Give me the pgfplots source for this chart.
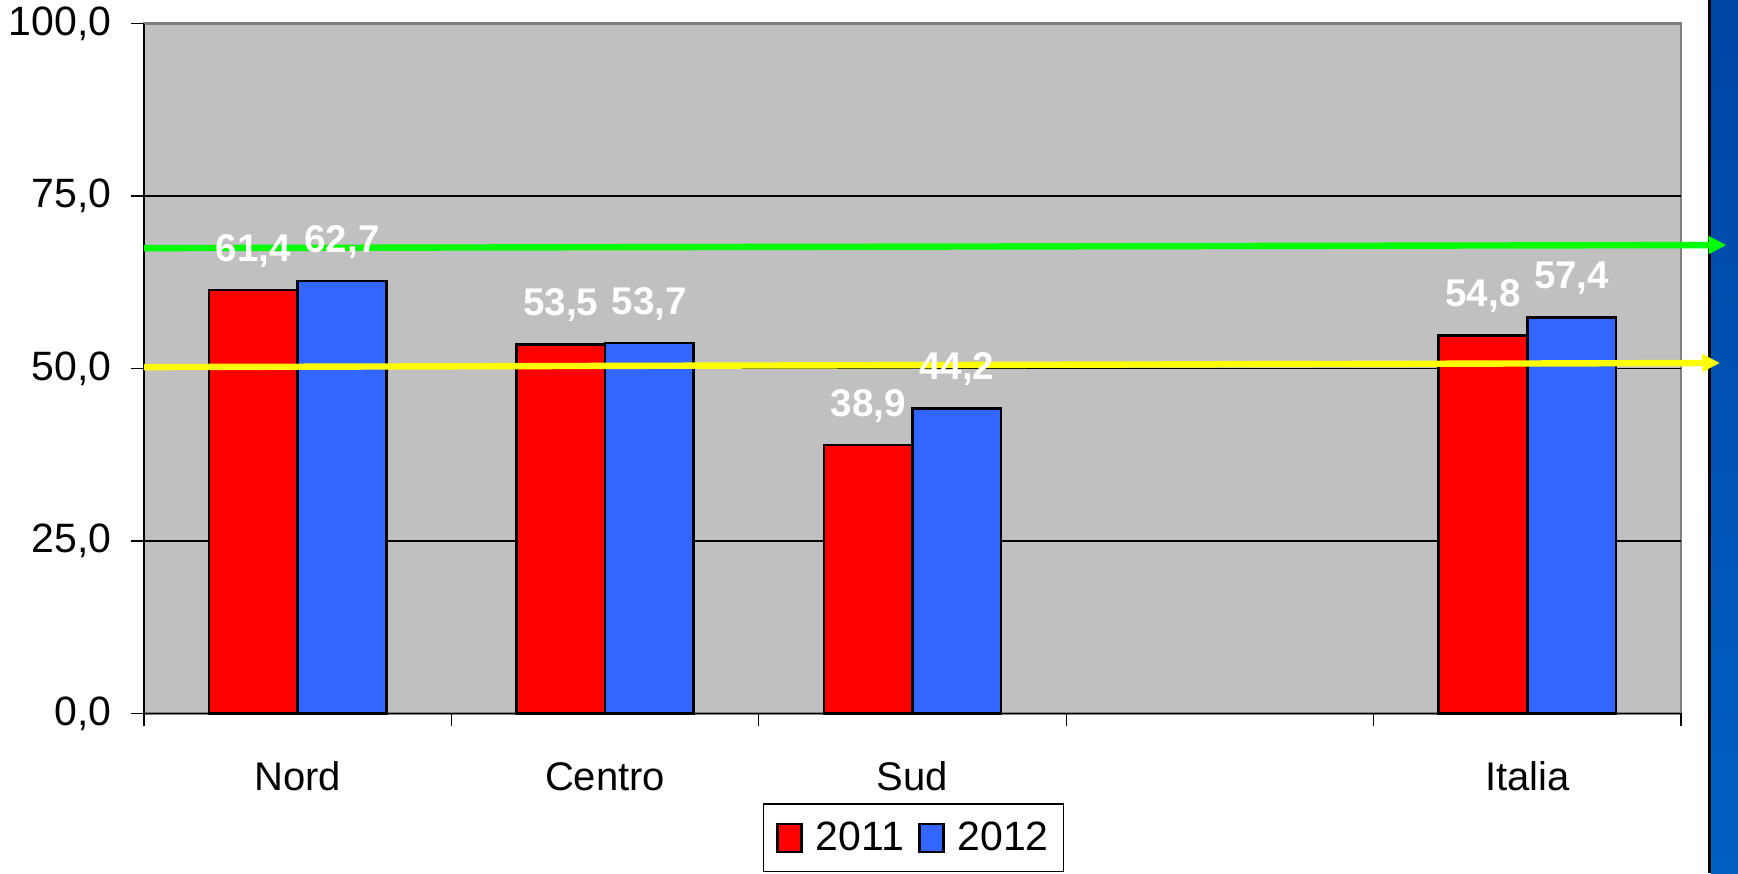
\documentclass[border=0pt]{standalone}
\usepackage{fontspec}
\setmainfont{Liberation Sans}
\usepackage{pgfplots}
\pgfplotsset{compat=1.18}
\usetikzlibrary{arrows.meta}
\definecolor{plotbg}{RGB}{192,192,192}
\definecolor{bordergray}{RGB}{128,128,128}
\definecolor{bred}{RGB}{255,0,0}
\definecolor{bblue}{RGB}{51,102,255}
\definecolor{stripetop}{RGB}{0,70,165}
\definecolor{stripebot}{RGB}{0,95,195}
\begin{document}
\begin{tikzpicture}[font=\fontsize{19}{23}\selectfont]
\path[use as bounding box] (0,0) rectangle (869pt,436.5pt);
\shade[top color=stripetop, bottom color=stripebot] (855.5pt,0) rectangle (869pt,436.5pt);
\fill[black] (854pt,0) rectangle (855.5pt,436.5pt);
\begin{axis}[
  at={(72pt,79.8pt)}, anchor=south west,
  scale only axis, width=768.5pt, height=344.9pt,
  xmin=-0.5, xmax=4.5, ymin=0, ymax=100,
  clip=false,
  axis x line*=bottom, axis y line*=left,
  axis line style={black, line width=0.6pt},
  axis background/.style={fill=plotbg, draw=bordergray, line width=1.4pt},
  ybar=0pt, bar width=44.3pt,
  ytick={0,25,50,75,100},
  extra y ticks={25,50,75}, extra y tick labels={},
  extra y tick style={grid=major, major grid style={black, line width=0.6pt}},
  xtick={-0.5,0.5,1.5,2.5,3.5,4.5}, xticklabels={},
  extra x ticks={0,1,2,4}, extra x tick labels={Nord,Centro,Sud,Italia},
  extra x tick style={major tick length=0pt},
  tick align=outside, major tick length=6.5pt,
  tick style={black, line width=0.6pt},
  yticklabel style={anchor=east, inner sep=0pt, xshift=-9.5pt, font=\fontsize{20.5}{24}\selectfont},
  xticklabel style={anchor=base, inner sep=0pt, yshift=-38.4pt, font=\fontsize{20}{24}\selectfont},
  /pgf/number format/use comma, /pgf/number format/fixed,
  /pgf/number format/fixed zerofill, /pgf/number format/precision=1,
  /pgf/number format/assume math mode=true,
  nodes near coords,
  every node near coord/.append style={text=white, font=\bfseries\fontsize{19.3}{23}\selectfont, anchor=base, inner sep=0pt, yshift=14.3pt},
  legend columns=2,
  legend image code/.code={\draw[#1] (0pt,-7pt) rectangle (12pt,7pt);},
  legend style={at={(axis description cs:0.4025,-0.1305)}, anchor=north west,
    draw=black, line width=0.6pt, fill=white, inner xsep=6.5pt, inner ysep=8pt,
    font=\fontsize{20.5}{24}\selectfont,
    nodes={inner sep=1pt},
    /tikz/every odd column/.append style={column sep=5.5pt},
    /tikz/every even column/.append style={column sep=6pt}},
]
\addplot[fill=bred, draw=black, line width=1.3pt] coordinates {(0,61.4) (1,53.5) (2,38.9) (4,54.8)};
\addplot[fill=bblue, draw=black, line width=1.3pt] coordinates {(0,62.7) (1,53.7) (2,44.2) (4,57.4)};
\legend{2011,2012}
\draw[color={rgb,255:red,0;green,255;blue,0}, line width=3.2pt, -{Triangle[length=9pt,width=8.5pt]}] (axis cs:-0.5,67.45) -- (axis cs:4.648,67.9);
\draw[color={rgb,255:red,255;green,255;blue,0}, line width=3.2pt, -{Triangle[length=9pt,width=8.5pt]}] (axis cs:-0.5,50.2) -- (axis cs:4.627,50.8);
\end{axis}
\end{tikzpicture}
\end{document}
